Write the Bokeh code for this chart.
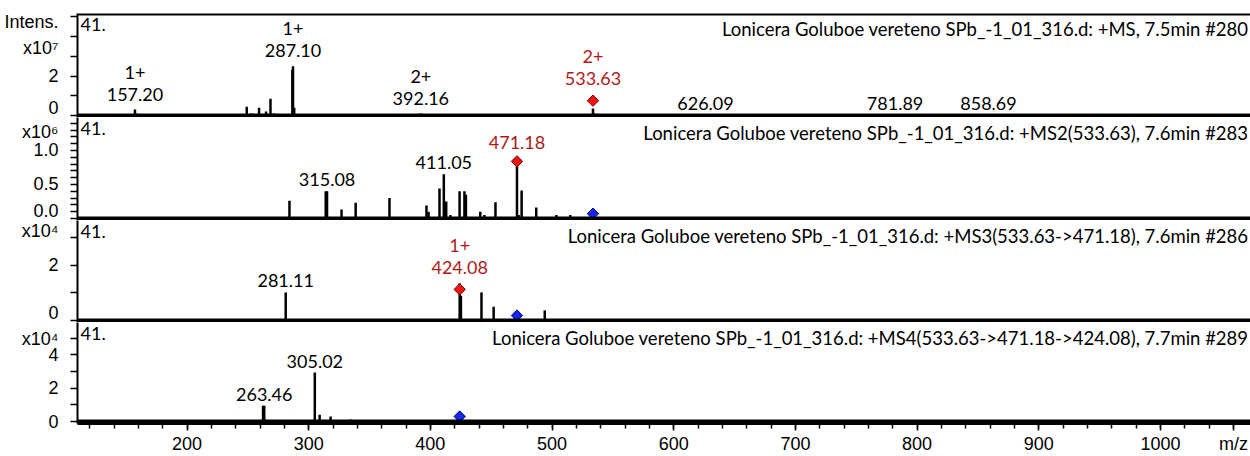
import numpy as np
from bokeh.plotting import figure
from bokeh.layouts import column
from bokeh.models import ColumnDataSource, Span, Label, FixedTicker, Range1d
from bokeh.core.properties import value
from bokeh.embed import file_html
from bokeh.resources import INLINE

# ---------------- data ----------------
MZ_START, MZ_END = 110, 1074
x_major = [200, 300, 400, 500, 600, 700, 800, 900, 1000]
x_unit_pos = 1060
x_unit_text = "m/z"

file_tag = "41."
titles = [
    "Lonicera Goluboe vereteno SPb_-1_01_316.d: +MS, 7.5min #280",
    "Lonicera Goluboe vereteno SPb_-1_01_316.d: +MS2(533.63), 7.6min #283",
    "Lonicera Goluboe vereteno SPb_-1_01_316.d: +MS3(533.63->471.18), 7.6min #286",
    "Lonicera Goluboe vereteno SPb_-1_01_316.d: +MS4(533.63->471.18->424.08), 7.7min #289",
]

# Panel 1: MS (x1e7)
ms1_mz = [157.20, 158.2, 203.0, 249.1, 253.0, 259.2, 265.0, 268.6, 271.5, 286.6, 287.10, 288.1,
          357.0, 367.0, 392.16, 444.0, 507.0, 518.0, 533.63, 534.6, 626.09, 781.89, 858.69]
ms1_int = [0.30, 0.10, 0.06, 0.45, 0.10, 0.40, 0.20, 0.85, 0.10, 2.30, 2.50, 0.40,
           0.03, 0.03, 0.10, 0.06, 0.05, 0.05, 0.35, 0.12, 0.04, 0.03, 0.03]
ms1_lab_mz = [157.20, 287.10, 392.16, 533.63, 626.09, 781.89, 858.69]
ms1_lab_txt = ["1+\n157.20", "1+\n287.10", "2+\n392.16", "2+\n533.63", "626.09", "781.89", "858.69"]

# Panel 2: MS2 (x1e6)
ms2_mz = [284.2, 314.0, 315.08, 327.0, 338.6, 366.4, 396.8, 398.5, 407.5, 411.05, 413.0, 416.5,
          424.0, 428.0, 429.2, 441.0, 444.4, 453.5, 471.18, 472.5, 475.0, 487.0, 503.6, 515.0]
ms2_int = [0.26, 0.40, 0.40, 0.13, 0.23, 0.30, 0.19, 0.10, 0.44, 0.65, 0.25, 0.05,
           0.40, 0.40, 0.35, 0.10, 0.05, 0.24, 0.78, 0.05, 0.41, 0.16, 0.05, 0.05]
ms2_lab_mz = [315.08, 411.05, 471.18]
ms2_lab_txt = ["315.08", "411.05", "471.18"]

# Panel 3: MS3 (x1e4)
ms3_mz = [281.11, 382.0, 424.08, 425.1, 442.0, 452.0, 494.0]
ms3_int = [1.02, 0.03, 1.35, 0.90, 1.02, 0.50, 0.37]
ms3_lab_mz = [281.11, 424.08]
ms3_lab_txt = ["281.11", "1+\n424.08"]

# Panel 4: MS4 (x1e4)
ms4_mz = [262.5, 263.46, 305.02, 309.0, 318.0, 334.4]
ms4_int = [0.94, 0.94, 2.94, 0.40, 0.30, 0.12]
ms4_lab_mz = [263.46, 305.02]
ms4_lab_txt = ["263.46", "305.02"]

# precursor markers (red: isolated in this scan, blue: parent of this scan)
red_mz = [533.63, 471.18, 424.08, None]
red_int = [0.75, 0.84, 1.13, None]
blue_mz = [None, 533.63, 471.18, 424.08]
blue_int = [None, 0.07, 0.18, 0.30]

# y axes: (start, end), tick marks, labelled positions
y_ranges = [(-0.10, 5.166), (-0.03, 1.485), (-0.073, 3.636), (-0.118, 5.94)]
y_tickmarks = [[0, 1, 2, 3, 4, 5],
               [round(0.1 * k, 1) for k in range(15)],
               [0, 1, 2, 3],
               [0, 1, 2, 3, 4, 5]]
y_labels = [
    {0: "0", 2: "2", 3.44: "x10\u2077", 4.736: "Intens."},
    {0: "0.0", 0.5: "0.5", 1.0: "1.0", 1.279: "x10\u2076"},
    {0: "0", 2: "2", 3.24: "x10\u2074"},
    {0: "0", 2: "2", 4: "4", 4.94: "x10\u2074"},
]

panels = [
    (ms1_mz, ms1_int, ms1_lab_mz, ms1_lab_txt),
    (ms2_mz, ms2_int, ms2_lab_mz, ms2_lab_txt),
    (ms3_mz, ms3_int, ms3_lab_mz, ms3_lab_txt),
    (ms4_mz, ms4_int, ms4_lab_mz, ms4_lab_txt),
]

# ---------------- styling ----------------
LBL_FONT = "Lato"
AX_FONT = "Arial"
RED_TXT = "#b01818"
heights = [117, 103, 102, 134]
border_top = [13, 0, 0, 0]
border_bottom = [0, 0, 0, 31]

xr = Range1d(MZ_START, MZ_END)
figs = []
for i, (mz, inten, lab_mz, lab_txt) in enumerate(panels):
    last = i == 3
    p = figure(width=1250, height=heights[i], x_range=xr,
               y_range=Range1d(*y_ranges[i]),
               output_backend="svg", toolbar_location=None,
               min_border_left=77, min_border_right=0,
               min_border_top=border_top[i], min_border_bottom=border_bottom[i],
               x_axis_location="below" if last else None,
               y_axis_location="left", outline_line_color=None,
               background_fill_color="white", border_fill_color="white")
    p.grid.grid_line_color = None

    # baseline trace and top frame
    p.add_layout(Span(location=0, dimension="width", line_color="black", line_width=4))
    if i == 0:
        p.add_layout(Span(location=y_ranges[i][1], dimension="width",
                          line_color="black", line_width=4))

    src = ColumnDataSource(dict(mz=mz, h=inten))
    p.segment(x0="mz", y0=0, x1="mz", y1="h", source=src, line_color="black", line_width=2.5)

    # labels
    lx, ly, lo, lc = [], [], [], []
    for m, t in zip(lab_mz, lab_txt):
        h = inten[int(np.argmin(np.abs(np.array(mz) - m)))]
        is_red = red_mz[i] is not None and abs(red_mz[i] - m) < 0.01
        if is_red and red_int[i] >= h:
            ly.append(red_int[i]); lo.append(-12)
        else:
            ly.append(h); lo.append(-5)
        lx.append(m)
        lc.append(RED_TXT if is_red else "black")
    lsrc = ColumnDataSource(dict(x=lx, y=ly, t=lab_txt, off=lo, c=lc))
    p.text(x="x", y="y", text="t", y_offset="off", text_color="c", source=lsrc,
           text_align="center", text_baseline="bottom",
           text_font=value(LBL_FONT), text_font_size="18px", text_line_height=1.0)

    # precursor markers
    if red_mz[i] is not None:
        p.scatter([red_mz[i]], [red_int[i]], marker="square", angle=np.pi / 4, size=8,
                  fill_color="#f01414", line_color="#700000", line_width=1)
    if blue_mz[i] is not None:
        p.scatter([blue_mz[i]], [blue_int[i]], marker="square", angle=np.pi / 4, size=8,
                  fill_color="#1428f0", line_color="#000070", line_width=1)

    # header texts
    p.add_layout(Label(x=MZ_START, y=y_ranges[i][1], text=file_tag, x_offset=3, y_offset=-4,
                       text_baseline="top", text_align="left", text_font=LBL_FONT,
                       text_font_size="18px", text_color="black"))
    p.add_layout(Label(x=MZ_END, y=y_ranges[i][1], text=titles[i], x_offset=-2, y_offset=-4,
                       text_baseline="top", text_align="right", text_font=LBL_FONT,
                       text_font_size="18.5px", text_color="black"))

    # y axis
    ya = p.yaxis[0]
    ya.ticker = FixedTicker(ticks=list(y_labels[i].keys()), minor_ticks=y_tickmarks[i])
    ya.major_label_overrides = y_labels[i]
    ya.axis_line_width = 2
    ya.axis_line_color = "black"
    ya.major_tick_out = 0
    ya.major_tick_in = 0
    ya.minor_tick_out = 7
    ya.minor_tick_in = 0
    ya.minor_tick_line_width = 1.5
    ya.minor_tick_line_color = "black"
    ya.major_label_standoff = 12
    ya.major_label_text_font = AX_FONT
    ya.major_label_text_font_size = "18px"
    ya.major_label_text_color = "black"

    if last:
        xa = p.xaxis[0]
        xa.ticker = FixedTicker(ticks=x_major + [x_unit_pos],
                                minor_ticks=list(range(120, 1061, 20)))
        xa.major_label_overrides = {x_unit_pos: x_unit_text}
        xa.axis_line_width = 3
        xa.axis_line_color = "black"
        xa.major_tick_out = 7
        xa.major_tick_in = 0
        xa.minor_tick_out = 5
        xa.minor_tick_in = 0
        xa.major_tick_line_width = 1.5
        xa.minor_tick_line_width = 1.5
        xa.major_label_standoff = 3
        xa.major_label_text_font = AX_FONT
        xa.major_label_text_font_size = "18px"
        xa.major_label_text_color = "black"
    figs.append(p)

layout = column(*figs, spacing=0)
open("out.html", "w").write(file_html(layout, INLINE))
